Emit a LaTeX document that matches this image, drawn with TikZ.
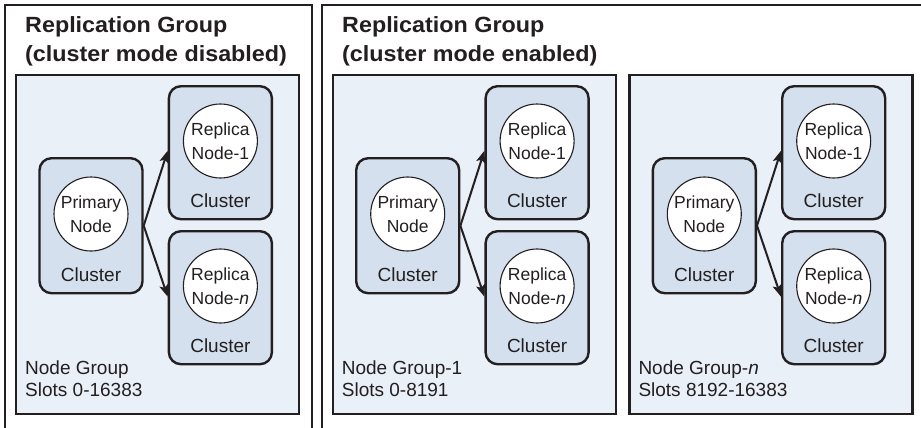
\documentclass[tikz,border=0pt]{standalone}
\usepackage{fontspec}
\setmainfont{Liberation Sans}
\newfontfamily\headfont[FakeStretch=1.06]{Liberation Sans Bold}
\usetikzlibrary{arrows.meta}

\definecolor{groupfill}{HTML}{E9F0F8}
\definecolor{clusterfill}{HTML}{D4E0EE}
\definecolor{ink}{HTML}{231F20}

\tikzset{
  frameline/.style={draw=ink, line width=2.3pt},
  groupbox/.style={draw=ink, fill=groupfill, line width=2.3pt,
    minimum width=283pt, minimum height=339pt, inner sep=0pt},
  clusterbox/.style={draw=ink, fill=clusterfill, line width=2.4pt,
    rounded corners=12pt, minimum width=103pt, inner sep=0pt},
  ringnode/.style={circle, draw=ink, fill=white, line width=1.1pt,
    minimum size=74pt, inner sep=0pt, align=center,
    font=\fontsize{17.5}{23.5}\selectfont, text=ink},
  clusterlabel/.style={font=\fontsize{19}{22}\selectfont, text=ink, inner sep=0pt},
  grouplabel/.style={font=\fontsize{19}{22}\selectfont, text=ink, inner sep=0pt},
  headtext/.style={font=\headfont\fontsize{22}{29}\selectfont, text=ink, inner sep=0pt},
  flow/.style={draw=ink, line width=2pt,
    -{Stealth[length=12pt, width=9pt, inset=2.5pt]}},
}

% One node group: #1 name prefix, #2 left edge, #3 and #4 the two label lines
\newcommand\drawnodegroup[4]{%
  \node[groupbox, anchor=north west] (#1g) at (#2,74) {};
  \node[clusterbox, anchor=north west, minimum height=135pt] (#1p) at (#2+23.3,157) {};
  \node[clusterbox, anchor=north west, minimum height=133pt] (#1a) at (#2+152.7,85) {};
  \node[clusterbox, anchor=north west, minimum height=133pt] (#1b) at (#2+152.7,230) {};
  \node[ringnode] (#1pc) at ([yshift=-57pt]#1p.north) {Primary\\Node};
  \node[ringnode] (#1ac) at ([yshift=-56pt]#1a.north) {Replica\\Node-1};
  \node[ringnode] (#1bc) at ([yshift=-56pt]#1b.north) {Replica\\Node-\textit{n}};
  \node[clusterlabel, anchor=base] (#1pl) at ([yshift=13pt]#1p.south) {Cluster};
  \node[clusterlabel, anchor=base] (#1al) at ([yshift=13pt]#1a.south) {Cluster};
  \node[clusterlabel, anchor=base] (#1bl) at ([yshift=13pt]#1b.south) {Cluster};
  \draw[flow] (#1p.east) -- ([yshift=2pt]#1a.west);
  \draw[flow] (#1p.east) -- ([yshift=1pt]#1b.west);
  \node[grouplabel, anchor=base west] (#1n) at (#2+10,374.5) {#3};
  \node[grouplabel, anchor=base west] (#1s) at (#2+10,396.8) {#4};
}

\begin{document}
\begin{tikzpicture}[x=1pt, y=-1pt]
  \useasboundingbox (0,0) rectangle (921,428);
  \fill[white] (0,0) rectangle (921,428);

  % outer frames, open at the bottom (and at the right for the second one)
  \draw[frameline] (5,430) -- (5,5) -- (312,5) -- (312,430);
  \draw[frameline] (322,430) -- (322,5) -- (923,5);

  % headings
  \node[headtext, anchor=base west] (h1a) at (25,33) {Replication Group};
  \node[headtext, anchor=base west] (h1b) at (25,62) {(cluster mode disabled)};
  \node[headtext, anchor=base west] (h2a) at (342,33) {Replication Group};
  \node[headtext, anchor=base west] (h2b) at (342,62) {(cluster mode enabled)};

  \drawnodegroup{l}{15}{Node Group}{Slots 0-16383}
  \drawnodegroup{m}{331.7}{Node Group-1}{Slots 0-8191}
  \drawnodegroup{r}{628.3}{Node Group-\textit{n}}{Slots 8192-16383}
\end{tikzpicture}
\end{document}
